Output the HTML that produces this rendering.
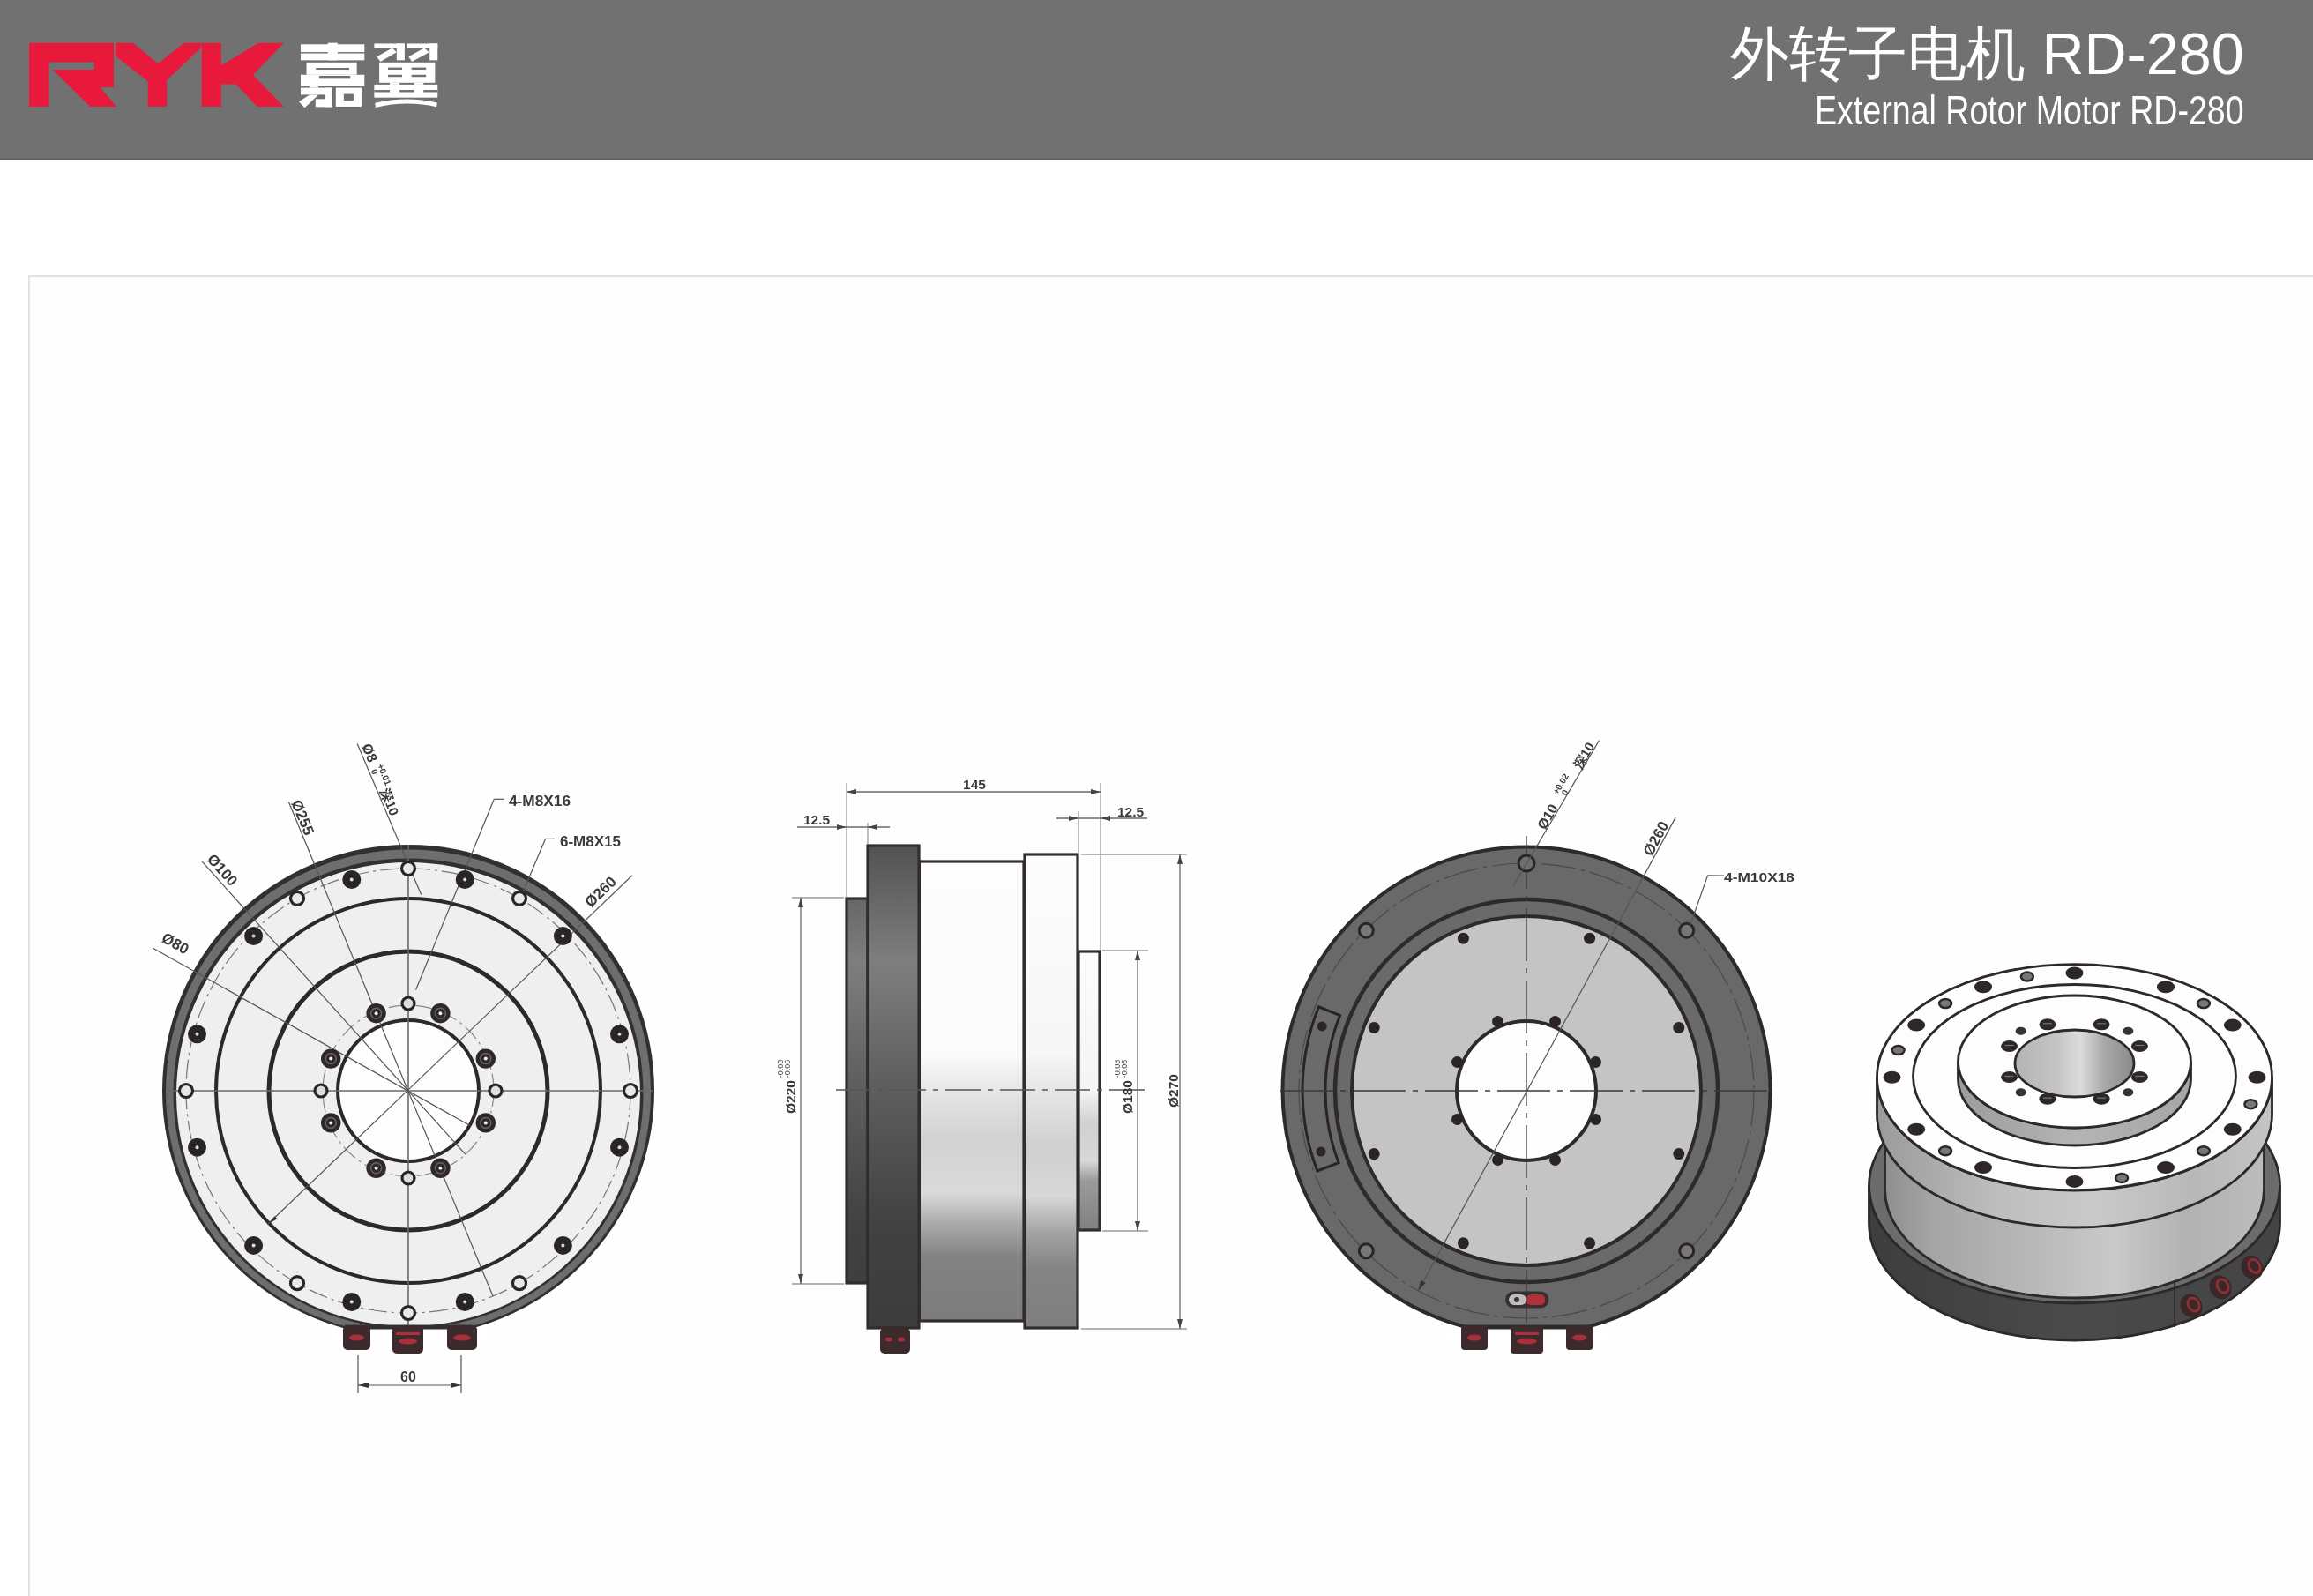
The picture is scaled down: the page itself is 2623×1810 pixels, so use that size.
<!DOCTYPE html>
<html><head><meta charset="utf-8">
<style>
html,body{margin:0;padding:0;background:#fff;width:2623px;height:1810px;overflow:hidden;font-family:"Liberation Sans",sans-serif;}
#hdr{position:absolute;left:0;top:0;width:2623px;height:180px;background:#717171;border-bottom:1px solid #5a5a5a;box-shadow:0 1px 1px rgba(0,0,0,0.12);}
#frame{position:absolute;left:32px;top:312px;width:2600px;height:1600px;border-left:2px solid #e2e2e2;border-top:2px solid #e2e2e2;background:#fefefe;}
svg{position:absolute;left:0;top:0;filter:blur(0.45px);}
.t1{position:absolute;color:#fff;white-space:nowrap;}
</style></head><body>
<div id="hdr"></div>
<div id="frame"></div>
<svg width="2623" height="1810" viewBox="0 0 2623 1810">
<!-- RYK logo -->
<g fill="#e8193a">
<polygon points="33,48.7 128.9,48.7 128.9,99 113.5,99 132.2,121.1 102.1,121.1 59.8,78.9 106.8,78.9 106.8,70.6 55.6,70.6 55.6,121.1 33,121.1"/>
<polygon points="130.9,48.7 151,48.7 179.1,72.2 208.6,48.7 228.1,48.7 228.1,54 189.2,91 189.2,121.1 167.7,121.1 167.7,92.3 130.9,63.5"/>
<polygon points="228.7,48.7 250.8,48.7 250.8,74.2 293.1,48.7 321.9,48.7 287,84.9 321.9,121.1 291.7,121.1 267.6,95.6 250.8,95.6 250.8,121.1 228.7,121.1"/>
</g>
<g transform="translate(320,40) scale(0.08217)">
<g fill="#fff">
<rect x="630" y="105" width="135" height="240"/><rect x="255" y="125" width="880" height="107"/><rect x="255" y="250" width="880" height="95"/>
<rect x="335" y="375" width="695" height="170"/><rect x="255" y="545" width="880" height="155"/><rect x="375" y="700" width="125" height="25"/>
<rect x="255" y="725" width="435" height="95"/><rect x="590" y="725" width="100" height="265"/><rect x="460" y="880" width="230" height="110"/>
<polygon points="380,820 500,820 310,1000 230,915"/>
<rect x="740" y="725" width="355" height="260"/>
<rect x="1270" y="115" width="420" height="65"/><rect x="1580" y="115" width="110" height="230"/><polygon points="1305,295 1520,175 1580,235 1355,365"/>
<rect x="1725" y="115" width="420" height="65"/><rect x="2035" y="115" width="110" height="230"/><polygon points="1745,295 1960,175 2030,235 1790,365"/>
<rect x="1340" y="375" width="770" height="280"/><rect x="1485" y="655" width="135" height="25"/><rect x="1820" y="655" width="130" height="25"/>
<rect x="1270" y="680" width="875" height="180"/>
<path d="M1280 935Q1710 830 2140 930L2130 990Q1710 895 1290 998z"/>
</g>
<g fill="#717171">
<rect x="465" y="450" width="460" height="25"/><rect x="510" y="560" width="430" height="40"/><rect x="850" y="810" width="135" height="90"/>
<rect x="1460" y="445" width="195" height="30"/><rect x="1785" y="445" width="200" height="30"/><rect x="1460" y="545" width="195" height="30"/><rect x="1785" y="545" width="200" height="30"/>
<rect x="1270" y="755" width="215" height="30"/><rect x="1620" y="755" width="200" height="30"/><rect x="1950" y="755" width="195" height="30"/>
</g>
</g>
<g id="front">
<circle cx="463" cy="1237" r="279" fill="#342f2f"/>
<circle cx="463" cy="1238.5" r="275" fill="#6e6e6e"/>
<circle cx="463" cy="1240" r="266.5" fill="#342f2f"/>
<circle cx="463" cy="1241" r="263" fill="#efefef"/>
<rect x="373" y="1507" width="180" height="14" fill="#fff"/>
<path d="M391 1505H535" stroke="#342f2f" stroke-width="5"/>
<circle cx="463" cy="1237" r="252" fill="none" stroke="#777" stroke-width="1.2" stroke-dasharray="22,5,3,5"/>
<circle cx="463" cy="1237" r="218" fill="none" stroke="#2d2929" stroke-width="4"/>
<circle cx="463" cy="1237" r="158" fill="none" stroke="#2d2929" stroke-width="5"/>
<circle cx="463" cy="1237" r="97" fill="none" stroke="#888" stroke-width="1.2" stroke-dasharray="18,5,3,5"/>
<circle cx="463" cy="1237" r="80" fill="#fdfdfd" stroke="#2d2929" stroke-width="4"/>
<path d="M188 1237H740M463 958V1505" stroke="#6a6a6a" stroke-width="1.6" fill="none"/>
<line x1="173.4" y1="1075.3" x2="532.7" y2="1276.3" stroke="#555" stroke-width="1.2"/>
<line x1="229.2" y1="977.2" x2="527.8" y2="1309.2" stroke="#555" stroke-width="1.2"/>
<line x1="327.4" y1="909.5" x2="559" y2="1470" stroke="#555" stroke-width="1.2"/>
<line x1="405.2" y1="843.5" x2="477.7" y2="1014.7" stroke="#555" stroke-width="1.2"/>
<line x1="571.5" y1="906.3" x2="560.3" y2="906.3" stroke="#555" stroke-width="1.2"/>
<line x1="560.3" y1="906.3" x2="471.6" y2="1122.5" stroke="#555" stroke-width="1.2"/>
<line x1="629" y1="951.4" x2="618.5" y2="951.4" stroke="#555" stroke-width="1.2"/>
<line x1="618.5" y1="951.4" x2="590.3" y2="1017.9" stroke="#555" stroke-width="1.2"/>
<line x1="303.3" y1="1388.8" x2="717" y2="992.8" stroke="#555" stroke-width="1.2"/>
<path d="M303.3 1388.8l8.2 -9.5l2.9 3z" fill="#333"/>
<circle cx="527.2" cy="997.5" r="10.5" fill="#2a2525"/><circle cx="527.2" cy="997.5" r="2" fill="#ddd"/>
<circle cx="638.4" cy="1061.6" r="10.5" fill="#2a2525"/><circle cx="638.4" cy="1061.6" r="2" fill="#ddd"/>
<circle cx="702.5" cy="1172.8" r="10.5" fill="#2a2525"/><circle cx="702.5" cy="1172.8" r="2" fill="#ddd"/>
<circle cx="702.5" cy="1301.2" r="10.5" fill="#2a2525"/><circle cx="702.5" cy="1301.2" r="2" fill="#ddd"/>
<circle cx="638.4" cy="1412.4" r="10.5" fill="#2a2525"/><circle cx="638.4" cy="1412.4" r="2" fill="#ddd"/>
<circle cx="527.2" cy="1476.5" r="10.5" fill="#2a2525"/><circle cx="527.2" cy="1476.5" r="2" fill="#ddd"/>
<circle cx="398.8" cy="1476.5" r="10.5" fill="#2a2525"/><circle cx="398.8" cy="1476.5" r="2" fill="#ddd"/>
<circle cx="287.6" cy="1412.4" r="10.5" fill="#2a2525"/><circle cx="287.6" cy="1412.4" r="2" fill="#ddd"/>
<circle cx="223.5" cy="1301.2" r="10.5" fill="#2a2525"/><circle cx="223.5" cy="1301.2" r="2" fill="#ddd"/>
<circle cx="223.5" cy="1172.8" r="10.5" fill="#2a2525"/><circle cx="223.5" cy="1172.8" r="2" fill="#ddd"/>
<circle cx="287.6" cy="1061.6" r="10.5" fill="#2a2525"/><circle cx="287.6" cy="1061.6" r="2" fill="#ddd"/>
<circle cx="398.8" cy="997.5" r="10.5" fill="#2a2525"/><circle cx="398.8" cy="997.5" r="2" fill="#ddd"/>
<circle cx="463" cy="985" r="7.5" fill="#e8e8e8" stroke="#2a2525" stroke-width="3.2"/>
<circle cx="589" cy="1018.8" r="7.5" fill="#e8e8e8" stroke="#2a2525" stroke-width="3.2"/>
<circle cx="715" cy="1237" r="7.5" fill="#e8e8e8" stroke="#2a2525" stroke-width="3.2"/>
<circle cx="589" cy="1455.2" r="7.5" fill="#e8e8e8" stroke="#2a2525" stroke-width="3.2"/>
<circle cx="463" cy="1489" r="7.5" fill="#e8e8e8" stroke="#2a2525" stroke-width="3.2"/>
<circle cx="337" cy="1455.2" r="7.5" fill="#e8e8e8" stroke="#2a2525" stroke-width="3.2"/>
<circle cx="211" cy="1237" r="7.5" fill="#e8e8e8" stroke="#2a2525" stroke-width="3.2"/>
<circle cx="337" cy="1018.8" r="7.5" fill="#e8e8e8" stroke="#2a2525" stroke-width="3.2"/>
<circle cx="499.4" cy="1149.2" r="11.2" fill="#2e2828"/><circle cx="499.4" cy="1149.2" r="6" fill="none" stroke="#6a6262" stroke-width="1.5"/><circle cx="499.4" cy="1149.2" r="2" fill="#eee"/>
<circle cx="550.8" cy="1200.6" r="11.2" fill="#2e2828"/><circle cx="550.8" cy="1200.6" r="6" fill="none" stroke="#6a6262" stroke-width="1.5"/><circle cx="550.8" cy="1200.6" r="2" fill="#eee"/>
<circle cx="550.8" cy="1273.4" r="11.2" fill="#2e2828"/><circle cx="550.8" cy="1273.4" r="6" fill="none" stroke="#6a6262" stroke-width="1.5"/><circle cx="550.8" cy="1273.4" r="2" fill="#eee"/>
<circle cx="499.4" cy="1324.8" r="11.2" fill="#2e2828"/><circle cx="499.4" cy="1324.8" r="6" fill="none" stroke="#6a6262" stroke-width="1.5"/><circle cx="499.4" cy="1324.8" r="2" fill="#eee"/>
<circle cx="426.6" cy="1324.8" r="11.2" fill="#2e2828"/><circle cx="426.6" cy="1324.8" r="6" fill="none" stroke="#6a6262" stroke-width="1.5"/><circle cx="426.6" cy="1324.8" r="2" fill="#eee"/>
<circle cx="375.2" cy="1273.4" r="11.2" fill="#2e2828"/><circle cx="375.2" cy="1273.4" r="6" fill="none" stroke="#6a6262" stroke-width="1.5"/><circle cx="375.2" cy="1273.4" r="2" fill="#eee"/>
<circle cx="375.2" cy="1200.6" r="11.2" fill="#2e2828"/><circle cx="375.2" cy="1200.6" r="6" fill="none" stroke="#6a6262" stroke-width="1.5"/><circle cx="375.2" cy="1200.6" r="2" fill="#eee"/>
<circle cx="426.6" cy="1149.2" r="11.2" fill="#2e2828"/><circle cx="426.6" cy="1149.2" r="6" fill="none" stroke="#6a6262" stroke-width="1.5"/><circle cx="426.6" cy="1149.2" r="2" fill="#eee"/>
<circle cx="463" cy="1138" r="7" fill="#ddd" stroke="#2a2525" stroke-width="3.2"/>
<circle cx="562" cy="1237" r="7" fill="#ddd" stroke="#2a2525" stroke-width="3.2"/>
<circle cx="463" cy="1336" r="7" fill="#ddd" stroke="#2a2525" stroke-width="3.2"/>
<circle cx="364" cy="1237" r="7" fill="#ddd" stroke="#2a2525" stroke-width="3.2"/>
<rect x="389" y="1503" width="31" height="28" rx="5" fill="#3c2a2c"/>
<ellipse cx="404.5" cy="1517" rx="8.5" ry="3.5" fill="#a8303c"/>
<rect x="445" y="1503" width="35" height="32" rx="5" fill="#3c2a2c"/>
<ellipse cx="462.5" cy="1521" rx="10.5" ry="3.5" fill="#a8303c"/>
<rect x="507" y="1503" width="34" height="28" rx="5" fill="#3c2a2c"/>
<ellipse cx="524.0" cy="1517" rx="10.0" ry="3.5" fill="#a8303c"/>
<rect x="449" y="1511" width="27" height="3" fill="#b03040"/>
<path d="M406 1537V1580M523 1537V1580M406 1571H523" stroke="#555" stroke-width="1.2" fill="none"/>
<path d="M406 1571l12 -3v6zM523 1571l-12 -3v6z" fill="#333"/>
<text x="463" y="1567" font-size="16" font-weight="bold" text-anchor="middle" fill="#3a3a3a">60</text>
<text transform="translate(182,1067) rotate(29.4)" font-size="17" fill="#3a3a3a" font-weight="bold" text-anchor="start">Ø80</text>
<text transform="translate(234,975) rotate(48.1)" font-size="17" fill="#3a3a3a" font-weight="bold" text-anchor="start">Ø100</text>
<text transform="translate(330,910) rotate(67.6)" font-size="17" fill="#3a3a3a" font-weight="bold" text-anchor="start">Ø255</text>
<g transform="translate(410,846) rotate(67.6)" fill="#3a3a3a" font-weight="bold"><text font-size="16">Ø8</text><text x="27" y="-8" font-size="10">+0.01</text><text x="30" y="1" font-size="10">0</text><text x="55" y="0" font-size="15">深10</text></g>
<text x="577" y="914" font-size="16" font-weight="bold" fill="#3a3a3a" textLength="70" lengthAdjust="spacingAndGlyphs">4-M8X16</text>
<text x="635" y="960" font-size="16" font-weight="bold" fill="#3a3a3a" textLength="69" lengthAdjust="spacingAndGlyphs">6-M8X15</text>
<text transform="translate(670,1030) rotate(-43.9)" font-size="17" fill="#3a3a3a" font-weight="bold" text-anchor="start">Ø260</text>
</g>
<g id="side">
<defs>
<linearGradient id="gFl" x1="0" y1="958" x2="0" y2="1507" gradientUnits="userSpaceOnUse">
<stop offset="0" stop-color="#525252"/><stop offset="0.24" stop-color="#7e7e7e"/><stop offset="0.5" stop-color="#5e5e5e"/><stop offset="0.78" stop-color="#424242"/><stop offset="1" stop-color="#3c3c3c"/></linearGradient>
<linearGradient id="gBody" x1="0" y1="976" x2="0" y2="1499" gradientUnits="userSpaceOnUse">
<stop offset="0" stop-color="#fdfdfd"/><stop offset="0.42" stop-color="#fbfbfb"/><stop offset="0.5" stop-color="#e6e6e6"/><stop offset="0.6" stop-color="#d2d2d2"/><stop offset="0.72" stop-color="#dadada"/><stop offset="0.79" stop-color="#a8a8a8"/><stop offset="0.86" stop-color="#828282"/><stop offset="1" stop-color="#7c7c7c"/></linearGradient>
<linearGradient id="gRf" x1="0" y1="968" x2="0" y2="1507" gradientUnits="userSpaceOnUse">
<stop offset="0" stop-color="#fdfdfd"/><stop offset="0.42" stop-color="#f6f6f6"/><stop offset="0.52" stop-color="#e2e2e2"/><stop offset="0.62" stop-color="#cfcfcf"/><stop offset="0.72" stop-color="#d8d8d8"/><stop offset="0.8" stop-color="#a2a2a2"/><stop offset="0.87" stop-color="#858585"/><stop offset="1" stop-color="#7e7e7e"/></linearGradient>
<linearGradient id="gBoss" x1="0" y1="1078" x2="0" y2="1396" gradientUnits="userSpaceOnUse">
<stop offset="0" stop-color="#fdfdfd"/><stop offset="0.5" stop-color="#f4f4f4"/><stop offset="0.62" stop-color="#d0d0d0"/><stop offset="0.75" stop-color="#d8d8d8"/><stop offset="0.82" stop-color="#9a9a9a"/><stop offset="1" stop-color="#808080"/></linearGradient>
</defs>
<path d="M960 888V1017M984 933V957M1248 888V1077M1223 920V967" stroke="#9a9a9a" stroke-width="1.3" fill="none"/>
<path d="M898 1018H957M898 1456H957M1226 969H1346M1226 1507H1346M1250 1078H1302M1250 1396H1302" stroke="#9a9a9a" stroke-width="1.3" fill="none"/>
<path d="M960 898H1248M904 938H1009M1198 928H1301M908 1018V1456M1290 1078V1396M1338 969V1507" stroke="#6a6a6a" stroke-width="1.3" fill="none"/>
<path d="M960 898L971 895L971 901z" fill="#444"/>
<path d="M1248 898L1237 901L1237 895z" fill="#444"/>
<path d="M960 938L949 941L949 935z" fill="#444"/>
<path d="M984 938L995 935L995 941z" fill="#444"/>
<path d="M1223 928L1212 931L1212 925z" fill="#444"/>
<path d="M1248 928L1259 925L1259 931z" fill="#444"/>
<path d="M908 1018L911 1029L905 1029z" fill="#444"/>
<path d="M908 1456L905 1445L911 1445z" fill="#444"/>
<path d="M1290 1078L1293 1089L1287 1089z" fill="#444"/>
<path d="M1290 1396L1287 1385L1293 1385z" fill="#444"/>
<path d="M1338 969L1341 980L1335 980z" fill="#444"/>
<path d="M1338 1507L1335 1496L1341 1496z" fill="#444"/>
<rect x="960" y="1019" width="24" height="436" fill="url(#gFl)" stroke="#322c2c" stroke-width="3.2"/>
<rect x="984" y="959" width="58" height="547" fill="url(#gFl)" stroke="#322c2c" stroke-width="3.2"/>
<rect x="1043" y="977" width="118" height="521" fill="url(#gBody)" stroke="#322c2c" stroke-width="3.2"/>
<rect x="1162" y="969" width="60" height="537" fill="url(#gRf)" stroke="#322c2c" stroke-width="3.2"/>
<rect x="1223" y="1079" width="24" height="316" fill="url(#gBoss)" stroke="#322c2c" stroke-width="3.2"/>
<rect x="998" y="1506" width="34" height="29" rx="5" fill="#3c2a2c"/><ellipse cx="1008" cy="1519" rx="4" ry="2.5" fill="#a8303c"/><ellipse cx="1022" cy="1519" rx="4" ry="2.5" fill="#a8303c"/>
<path d="M948 1236H1306" stroke="#555" stroke-width="1.3" stroke-dasharray="40,8,6,8"/>
<text x="1105" y="895" fill="#3a3a3a" font-size="15.5" font-weight="bold" text-anchor="middle">145</text>
<text x="926" y="935" fill="#3a3a3a" font-size="15.5" font-weight="bold" text-anchor="middle">12.5</text>
<text x="1282" y="926" fill="#3a3a3a" font-size="15.5" font-weight="bold" text-anchor="middle">12.5</text>
<text transform="translate(902,1244) rotate(-90)" fill="#3a3a3a" font-size="15.5" font-weight="bold" text-anchor="middle">Ø220</text>
<text transform="translate(1284,1244) rotate(-90)" fill="#3a3a3a" font-size="15.5" font-weight="bold" text-anchor="middle">Ø180</text>
<text transform="translate(1336,1237) rotate(-90)" fill="#3a3a3a" font-size="15.5" font-weight="bold" text-anchor="middle">Ø270</text>
<text transform="translate(888,1212) rotate(-90)" fill="#444" font-size="9" text-anchor="middle">-0.03</text>
<text transform="translate(896,1212) rotate(-90)" fill="#444" font-size="9" text-anchor="middle">-0.06</text>
<text transform="translate(1270,1212) rotate(-90)" fill="#444" font-size="9" text-anchor="middle">-0.03</text>
<text transform="translate(1278,1212) rotate(-90)" fill="#444" font-size="9" text-anchor="middle">-0.06</text>
</g>
<g id="back">
<circle cx="1731" cy="1237" r="276.5" fill="#696969" stroke="#2f2a2a" stroke-width="4"/>
<rect x="1641" y="1507" width="180" height="14" fill="#fff"/>
<path d="M1659 1505H1803" stroke="#2f2a2a" stroke-width="5"/>
<circle cx="1731" cy="1237" r="258" fill="none" stroke="#4a4a4a" stroke-width="1.2" stroke-dasharray="40,6,4,6"/>
<path d="M1493.9 1328A254 254 0 0 1 1495.5 1141.8L1519.6 1151.6A228 228 0 0 0 1518.1 1318.7z" fill="#6b6b6b" stroke="#2a2424" stroke-width="3"/>
<circle cx="1498" cy="1306" r="5.5" fill="#2a2424"/>
<circle cx="1499.2" cy="1163.9" r="5.5" fill="#2a2424"/>
<circle cx="1731" cy="1237" r="217" fill="#6a6a6a" stroke="#2f2a2a" stroke-width="4.5"/>
<circle cx="1731" cy="1237" r="198" fill="#c4c4c4" stroke="#2f2a2a" stroke-width="4"/>
<circle cx="1731" cy="1237" r="79" fill="#fdfdfd" stroke="#2f2a2a" stroke-width="4"/>
<circle cx="1802.6" cy="1064.2" r="6.5" fill="#2a2424"/>
<circle cx="1763.5" cy="1158.5" r="6.5" fill="#2a2424"/>
<circle cx="1903.8" cy="1165.4" r="6.5" fill="#2a2424"/>
<circle cx="1809.5" cy="1204.5" r="6.5" fill="#2a2424"/>
<circle cx="1903.8" cy="1308.6" r="6.5" fill="#2a2424"/>
<circle cx="1809.5" cy="1269.5" r="6.5" fill="#2a2424"/>
<circle cx="1802.6" cy="1409.8" r="6.5" fill="#2a2424"/>
<circle cx="1763.5" cy="1315.5" r="6.5" fill="#2a2424"/>
<circle cx="1659.4" cy="1409.8" r="6.5" fill="#2a2424"/>
<circle cx="1698.5" cy="1315.5" r="6.5" fill="#2a2424"/>
<circle cx="1558.2" cy="1308.6" r="6.5" fill="#2a2424"/>
<circle cx="1652.5" cy="1269.5" r="6.5" fill="#2a2424"/>
<circle cx="1558.2" cy="1165.4" r="6.5" fill="#2a2424"/>
<circle cx="1652.5" cy="1204.5" r="6.5" fill="#2a2424"/>
<circle cx="1659.4" cy="1064.2" r="6.5" fill="#2a2424"/>
<circle cx="1698.5" cy="1158.5" r="6.5" fill="#2a2424"/>
<path d="M1452 1237H2012M1731 948V1520" stroke="#3a3a3a" stroke-width="1.3" stroke-dasharray="60,8,6,8" fill="none"/>
<circle cx="1912.7" cy="1055.3" r="8" fill="#777" stroke="#2a2424" stroke-width="3"/>
<circle cx="1912.7" cy="1418.7" r="8" fill="#777" stroke="#2a2424" stroke-width="3"/>
<circle cx="1549.3" cy="1418.7" r="8" fill="#777" stroke="#2a2424" stroke-width="3"/>
<circle cx="1549.3" cy="1055.3" r="8" fill="#777" stroke="#2a2424" stroke-width="3"/>
<circle cx="1731" cy="979" r="9" fill="#6e6e6e" stroke="#2a2424" stroke-width="3"/>
<line x1="1813.6" y1="839.5" x2="1716" y2="1005" stroke="#555" stroke-width="1.2"/>
<line x1="1900" y1="927.4" x2="1608.3" y2="1463.9" stroke="#555" stroke-width="1.2"/>
<path d="M1608.3 1463.9l8.3 -9.1l-5.3 -2.9z" fill="#333"/>
<line x1="1955" y1="993" x2="1936.6" y2="992.8" stroke="#555" stroke-width="1.2"/>
<line x1="1936.6" y1="992.8" x2="1916.7" y2="1049.3" stroke="#555" stroke-width="1.2"/>
<rect x="1707" y="1464.5" width="49.5" height="19" rx="9.5" fill="#3a2f2f"/>
<rect x="1711" y="1468" width="20" height="12" rx="6" fill="#bdbdbd"/><rect x="1731" y="1468" width="21" height="12" rx="5" fill="#b0303c"/>
<circle cx="1720" cy="1474" r="3" fill="#333"/>
<rect x="1657" y="1503" width="30" height="28" rx="4" fill="#3c2a2c"/>
<ellipse cx="1672" cy="1517" rx="8" ry="3.5" fill="#a8303c"/>
<rect x="1713" y="1503" width="37" height="32" rx="4" fill="#3c2a2c"/>
<ellipse cx="1731.5" cy="1521" rx="11.5" ry="3.5" fill="#a8303c"/>
<rect x="1776" y="1503" width="30.5" height="28" rx="4" fill="#3c2a2c"/>
<ellipse cx="1791.2" cy="1517" rx="8.2" ry="3.5" fill="#a8303c"/>
<rect x="1718" y="1511" width="27" height="3" fill="#b03040"/>
<g transform="translate(1752,942) rotate(-59.4)" fill="#3a3a3a" font-weight="bold"><text font-size="16">Ø10</text><text x="42" y="-8" font-size="10">+0.02</text><text x="46" y="1" font-size="10">0</text><text x="80" y="0" font-size="15">深10</text></g>
<text transform="translate(1873,972) rotate(-61.6)" font-size="17" fill="#3a3a3a" font-weight="bold" text-anchor="start">Ø260</text>
<text x="1955" y="1000" font-size="15" font-weight="bold" fill="#3a3a3a" textLength="80" lengthAdjust="spacingAndGlyphs">4-M10X18</text>
</g>
<g id="iso">
<defs>
<linearGradient id="iBody" x1="2137" y1="0" x2="2568" y2="0" gradientUnits="userSpaceOnUse">
<stop offset="0" stop-color="#8e8e8e"/><stop offset="0.12" stop-color="#a4a4a4"/><stop offset="0.45" stop-color="#bdbdbd"/><stop offset="0.6" stop-color="#c9c9c9"/><stop offset="0.8" stop-color="#b2b2b2"/><stop offset="1" stop-color="#bcbcbc"/></linearGradient>
<linearGradient id="iFl" x1="2128" y1="0" x2="2577" y2="0" gradientUnits="userSpaceOnUse">
<stop offset="0" stop-color="#9a9a9a"/><stop offset="0.3" stop-color="#bdbdbd"/><stop offset="0.55" stop-color="#cacaca"/><stop offset="0.8" stop-color="#b8b8b8"/><stop offset="1" stop-color="#c4c4c4"/></linearGradient>
<linearGradient id="iBase" x1="2119" y1="0" x2="2586" y2="0" gradientUnits="userSpaceOnUse">
<stop offset="0" stop-color="#3e3e3e"/><stop offset="0.5" stop-color="#4a4a4a"/><stop offset="1" stop-color="#444"/></linearGradient>
<linearGradient id="iHole" x1="2285" y1="0" x2="2420" y2="0" gradientUnits="userSpaceOnUse">
<stop offset="0" stop-color="#b4b4b4"/><stop offset="0.35" stop-color="#c4c4c4"/><stop offset="0.55" stop-color="#dcdcdc"/><stop offset="0.75" stop-color="#a8a8a8"/><stop offset="1" stop-color="#8a8a8a"/></linearGradient>
<linearGradient id="iBoss" x1="2220" y1="0" x2="2485" y2="0" gradientUnits="userSpaceOnUse">
<stop offset="0" stop-color="#9c9c9c"/><stop offset="0.5" stop-color="#b4b4b4"/><stop offset="1" stop-color="#a6a6a6"/></linearGradient>
</defs>
<ellipse cx="2352.5" cy="1345" rx="233" ry="133" fill="#6c6c6c" stroke="#2e2929" stroke-width="2.8"/>
<path d="M2119.5 1345V1387A233 133 0 0 0 2585.5 1387V1345A233 133 0 0 1 2119.5 1345z" fill="url(#iBase)" stroke="#2e2929" stroke-width="2.8"/>
<path d="M2137.5 1264V1349A215 123 0 0 0 2567.5 1349V1264A215 123 0 0 1 2137.5 1264z" fill="url(#iBody)" stroke="#2e2929" stroke-width="2.8"/>
<path d="M2128.5 1222V1264A224 128 0 0 0 2576.5 1264V1222A224 128 0 0 1 2128.5 1222z" fill="url(#iFl)" stroke="#2e2929" stroke-width="2.8"/>
<ellipse cx="2352.5" cy="1221.7" rx="224" ry="128" fill="#fdfdfd" stroke="#2e2929" stroke-width="2.8"/>
<ellipse cx="2352.5" cy="1220.5" rx="183" ry="104" fill="none" stroke="#2e2929" stroke-width="2.8"/>
<path d="M2220.5 1204V1224A132 75 0 0 0 2484.5 1224V1204A132 75 0 0 1 2220.5 1204z" fill="url(#iBoss)" stroke="#2e2929" stroke-width="2.8"/>
<ellipse cx="2352.5" cy="1204" rx="132" ry="75" fill="#fdfdfd" stroke="#2e2929" stroke-width="2.8"/>
<ellipse cx="2352.5" cy="1206" rx="67.5" ry="38" fill="url(#iHole)" stroke="#2e2929" stroke-width="2.8"/>
<ellipse cx="2352.5" cy="1103.5" rx="10" ry="7" fill="#2e2727"/>
<ellipse cx="2456" cy="1119.3" rx="10" ry="7" fill="#2e2727"/>
<ellipse cx="2531.8" cy="1162.6" rx="10" ry="7" fill="#2e2727"/>
<ellipse cx="2559.5" cy="1221.7" rx="10" ry="7" fill="#2e2727"/>
<ellipse cx="2531.8" cy="1280.8" rx="10" ry="7" fill="#2e2727"/>
<ellipse cx="2456" cy="1324.1" rx="10" ry="7" fill="#2e2727"/>
<ellipse cx="2352.5" cy="1339.9" rx="10" ry="7" fill="#2e2727"/>
<ellipse cx="2249" cy="1324.1" rx="10" ry="7" fill="#2e2727"/>
<ellipse cx="2173.2" cy="1280.8" rx="10" ry="7" fill="#2e2727"/>
<ellipse cx="2145.5" cy="1221.7" rx="10" ry="7" fill="#2e2727"/>
<ellipse cx="2173.2" cy="1162.6" rx="10" ry="7" fill="#2e2727"/>
<ellipse cx="2249" cy="1119.3" rx="10" ry="7" fill="#2e2727"/>
<ellipse cx="2298.9" cy="1107.5" rx="7" ry="5" fill="#777" stroke="#2e2727" stroke-width="2.5"/>
<ellipse cx="2498.9" cy="1138.1" rx="7" ry="5" fill="#777" stroke="#2e2727" stroke-width="2.5"/>
<ellipse cx="2206.1" cy="1138.1" rx="7" ry="5" fill="#777" stroke="#2e2727" stroke-width="2.5"/>
<ellipse cx="2152.6" cy="1191.1" rx="7" ry="5" fill="#777" stroke="#2e2727" stroke-width="2.5"/>
<ellipse cx="2552.4" cy="1252.3" rx="7" ry="5" fill="#777" stroke="#2e2727" stroke-width="2.5"/>
<ellipse cx="2206.1" cy="1305.3" rx="7" ry="5" fill="#777" stroke="#2e2727" stroke-width="2.5"/>
<ellipse cx="2498.9" cy="1305.3" rx="7" ry="5" fill="#777" stroke="#2e2727" stroke-width="2.5"/>
<ellipse cx="2406.1" cy="1335.9" rx="7" ry="5" fill="#777" stroke="#2e2727" stroke-width="2.5"/>
<ellipse cx="2383.1" cy="1161.8" rx="9.5" ry="6.5" fill="#2e2727"/><path d="M2378.1 1160.8h10" stroke="#777" stroke-width="1.2"/>
<ellipse cx="2426.4" cy="1186.5" rx="9.5" ry="6.5" fill="#2e2727"/><path d="M2421.4 1185.5h10" stroke="#777" stroke-width="1.2"/>
<ellipse cx="2426.4" cy="1221.5" rx="9.5" ry="6.5" fill="#2e2727"/><path d="M2421.4 1220.5h10" stroke="#777" stroke-width="1.2"/>
<ellipse cx="2383.1" cy="1246.2" rx="9.5" ry="6.5" fill="#2e2727"/><path d="M2378.1 1245.2h10" stroke="#777" stroke-width="1.2"/>
<ellipse cx="2321.9" cy="1246.2" rx="9.5" ry="6.5" fill="#2e2727"/><path d="M2316.9 1245.2h10" stroke="#777" stroke-width="1.2"/>
<ellipse cx="2278.6" cy="1221.5" rx="9.5" ry="6.5" fill="#2e2727"/><path d="M2273.6 1220.5h10" stroke="#777" stroke-width="1.2"/>
<ellipse cx="2278.6" cy="1186.5" rx="9.5" ry="6.5" fill="#2e2727"/><path d="M2273.6 1185.5h10" stroke="#777" stroke-width="1.2"/>
<ellipse cx="2321.9" cy="1161.8" rx="9.5" ry="6.5" fill="#2e2727"/><path d="M2316.9 1160.8h10" stroke="#777" stroke-width="1.2"/>
<ellipse cx="2413.3" cy="1169.3" rx="6" ry="4.5" fill="#3a3333"/>
<ellipse cx="2413.3" cy="1238.7" rx="6" ry="4.5" fill="#3a3333"/>
<ellipse cx="2291.7" cy="1238.7" rx="6" ry="4.5" fill="#3a3333"/>
<ellipse cx="2291.7" cy="1169.3" rx="6" ry="4.5" fill="#3a3333"/>
<ellipse cx="2485" cy="1481" rx="12" ry="14" transform="rotate(-30 2485 1481)" fill="#3a2828"/>
<ellipse cx="2488" cy="1481" rx="6" ry="8" transform="rotate(-30 2485 1481)" fill="none" stroke="#8a3036" stroke-width="3"/>
<ellipse cx="2518" cy="1460" rx="12" ry="14" transform="rotate(-30 2518 1460)" fill="#3a2828"/>
<ellipse cx="2521" cy="1460" rx="6" ry="8" transform="rotate(-30 2518 1460)" fill="none" stroke="#8a3036" stroke-width="3"/>
<ellipse cx="2554" cy="1437.4" rx="12" ry="14" transform="rotate(-30 2554 1437.4)" fill="#3a2828"/>
<ellipse cx="2557" cy="1437.4" rx="6" ry="8" transform="rotate(-30 2554 1437.4)" fill="none" stroke="#8a3036" stroke-width="3"/>
<path d="M2466 1452V1505" stroke="#2e2929" stroke-width="1.5"/>
</g>
</svg>

<div class="t1" style="left:1962px;top:28px;font-size:66.5px;line-height:1;">外转子电机 RD-280</div>
<div class="t1" style="left:2058px;top:102px;font-size:46px;line-height:1;transform-origin:0 0;transform:scaleX(0.817);">External Rotor Motor RD-280</div>
</body></html>
